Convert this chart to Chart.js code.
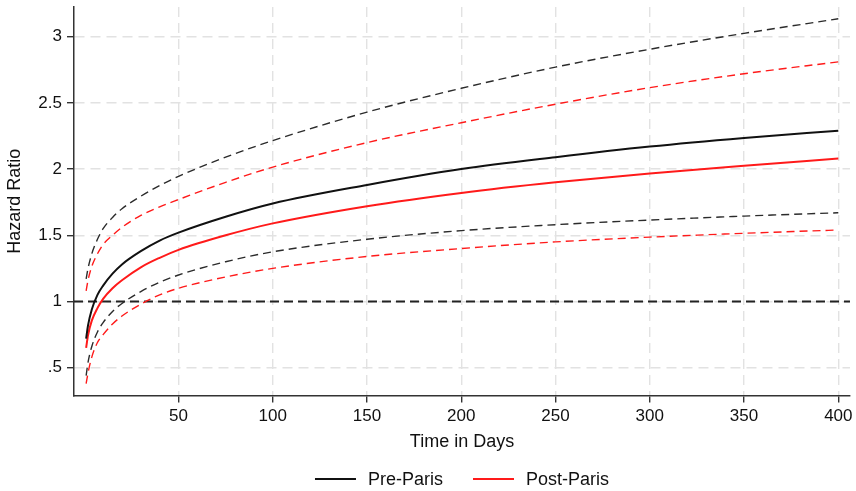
<!DOCTYPE html>
<html><head><meta charset="utf-8">
<script src="https://cdn.jsdelivr.net/npm/chart.js@4/dist/chart.umd.min.js"></script>
<style>html,body{margin:0;padding:0;background:#fff}</style>
</head><body>
<canvas id="c" width="856" height="491"></canvas>
<script>
// ---- data ----
const days     = [1, 2, 4, 7, 10, 15, 20, 30, 40, 50, 75, 100, 150, 200, 250, 300, 350, 400];
const preHR    = [0.72, 0.82, 0.94, 1.05, 1.12, 1.21, 1.28, 1.38, 1.46, 1.52, 1.64, 1.74, 1.88, 2.00, 2.09, 2.17, 2.235, 2.29];
const preLo    = [0.44, 0.54, 0.66, 0.77, 0.84, 0.925, 0.985, 1.075, 1.145, 1.20, 1.30, 1.375, 1.47, 1.535, 1.58, 1.615, 1.645, 1.67];
const preHi    = [1.17, 1.25, 1.36, 1.47, 1.55, 1.635, 1.70, 1.795, 1.875, 1.945, 2.09, 2.215, 2.43, 2.61, 2.77, 2.905, 3.025, 3.135];
const postHR   = [0.65, 0.745, 0.855, 0.95, 1.02, 1.10, 1.16, 1.258, 1.33, 1.39, 1.50, 1.59, 1.72, 1.82, 1.90, 1.967, 2.025, 2.08];
const postLo   = [0.38, 0.46, 0.58, 0.69, 0.75, 0.83, 0.89, 0.98, 1.05, 1.10, 1.185, 1.25, 1.34, 1.40, 1.45, 1.486, 1.515, 1.54];
const postHi   = [1.08, 1.16, 1.265, 1.36, 1.43, 1.50, 1.56, 1.65, 1.715, 1.77, 1.90, 2.015, 2.20, 2.35, 2.49, 2.615, 2.72, 2.81];
const seriesNames = ["Pre-Paris", "Post-Paris"];
const xTicks = [50, 100, 150, 200, 250, 300, 350, 400];
const yTicks = [0.5, 1, 1.5, 2, 2.5, 3];
const xRange = [-5.44, 406.2];
const yRange = [0.29, 3.224];
const refValue = 1;

const FONT = "'Liberation Sans', Arial, Helvetica, sans-serif";
const pts = (ys) => days.map((d, i) => ({x: d, y: ys[i]}));

const BLACK = '#111111', BLACKD = '#2b2b2b', RED = '#ff1a1a';
const solid = (label, ys, color) => ({label, data: pts(ys), borderColor: color, backgroundColor: color,
  borderWidth: 2, pointRadius: 0, cubicInterpolationMode: 'monotone', fill: false, showLeg: true});
const dashed = (ys, color) => ({label: '', data: pts(ys), borderColor: color, backgroundColor: color,
  borderWidth: 1.4, borderDash: [8, 5], pointRadius: 0, cubicInterpolationMode: 'monotone', fill: false});

const datasets = [
  solid(seriesNames[0], preHR, BLACK),
  solid(seriesNames[1], postHR, RED),
  dashed(preHi, BLACKD), dashed(preLo, BLACKD),
  dashed(postHi, RED), dashed(postLo, RED),
  {label: '', data: [{x: xRange[0], y: refValue}, {x: xRange[1], y: refValue}], borderColor: '#222',
   borderWidth: 2.2, borderDash: [9, 5], pointRadius: 0, fill: false}
];

const legendPlugin = {
  id: 'customLegend',
  afterDraw(chart) {
    const ctx = chart.ctx;
    const items = chart.data.datasets.filter(d => d.showLeg);
    ctx.save();
    ctx.font = `18px ${FONT}`;
    const lineW = 41, gap = 12, itemGap = 30;
    const widths = items.map(d => lineW + gap + ctx.measureText(d.label).width);
    const total = widths.reduce((a, b) => a + b, 0) + itemGap * (items.length - 1);
    const ca = chart.chartArea;
    let x = (ca.left + ca.right) / 2 - total / 2;
    const y = 479;
    items.forEach((d, i) => {
      ctx.strokeStyle = d.borderColor; ctx.lineWidth = 2;
      ctx.beginPath(); ctx.moveTo(x, y); ctx.lineTo(x + lineW, y); ctx.stroke();
      ctx.fillStyle = '#111'; ctx.textBaseline = 'middle'; ctx.textAlign = 'left';
      ctx.fillText(d.label, x + lineW + gap, y + 1);
      x += widths[i] + itemGap;
    });
    ctx.restore();
  }
};

new Chart(document.getElementById('c'), {
  type: 'line',
  data: {datasets},
  plugins: [legendPlugin],
  options: {
    responsive: false, animation: false, devicePixelRatio: 1,
    layout: {padding: {top: 7, right: 6, left: 0, bottom: 38.5}},
    plugins: {legend: {display: false}, tooltip: {enabled: false}},
    scales: {
      x: {
        type: 'linear', min: xRange[0], max: xRange[1],
        afterBuildTicks: s => { s.ticks = xTicks.map(v => ({value: v})); },
        afterFit: s => { s.height = 57; s.paddingLeft = 0; s.paddingRight = 0; },
        ticks: {autoSkip: false, maxRotation: 0, padding: 4, color: '#111', font: {family: FONT, size: 17}},
        grid: {color: '#e2e2e2', lineWidth: 1.4, tickLength: 7, tickColor: '#333', tickWidth: 1.4, tickBorderDash: []},
        border: {display: true, color: '#333', width: 1.5, dash: [10, 6]},
        title: {display: true, text: 'Time in Days', color: '#111', font: {family: FONT, size: 18}, padding: {top: 0, bottom: 0}}
      },
      y: {
        type: 'linear', min: yRange[0], max: yRange[1],
        afterBuildTicks: s => { s.ticks = yTicks.map(v => ({value: v})); },
        afterFit: s => { s.width = 74; s.paddingTop = 0; s.paddingBottom = 0; },
        ticks: {padding: 5, color: '#111', font: {family: FONT, size: 17},
          callback: v => (v < 1 ? String(v).replace(/^0/, '') : String(v))},
        grid: {color: '#e2e2e2', lineWidth: 1.4, tickLength: 7, tickColor: '#333', tickWidth: 1.4, tickBorderDash: []},
        border: {display: true, color: '#333', width: 1.5, dash: [10, 6]},
        title: {display: true, text: 'Hazard Ratio', color: '#111', font: {family: FONT, size: 18}, padding: {top: 4, bottom: 0}}
      }
    }
  }
});
</script>
</body></html>
